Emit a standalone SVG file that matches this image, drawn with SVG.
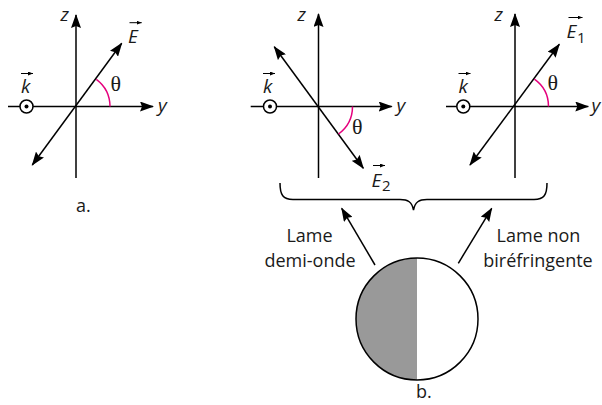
<svg xmlns="http://www.w3.org/2000/svg" width="602" height="405" viewBox="0 0 602 405">
<style>
.ax{stroke:#000;stroke-width:1.5;fill:none}
.arc{stroke:#e5007d;stroke-width:1.5;fill:none}
.vec{stroke:#000;stroke-width:1;fill:none}
.t{font-family:"Open Sans","Liberation Sans",sans-serif;font-size:18px;fill:#1a1a1a}
.i{font-style:italic;font-size:19px}
.sub{font-family:"Open Sans","Liberation Sans",sans-serif;font-size:15px;fill:#1a1a1a}
.th{font-family:"Liberation Serif","DejaVu Serif",serif;font-size:22px;fill:#1a1a1a}
</style>
<defs>
<marker id="ah" markerUnits="userSpaceOnUse" markerWidth="14" markerHeight="10" refX="13" refY="5" orient="auto-start-reverse" viewBox="0 0 14 10">
<path d="M0,0 L14,5 L0,10 L2,5 Z" fill="#000"/>
</marker>
<marker id="sh" markerUnits="userSpaceOnUse" markerWidth="5" markerHeight="4" refX="5" refY="2" orient="auto" viewBox="0 0 5 4">
<path d="M0,0 L5,2 L0,4 Z" fill="#000"/>
</marker>
<g id="kdot">
<circle cx="0" cy="0" r="6.5" fill="#fff" stroke="#000" stroke-width="1.5"/>
<circle cx="0" cy="0" r="2" fill="#000"/>
</g>
</defs>

<g id="panel-a">
<line class="ax" x1="8" y1="106.5" x2="153" y2="106.5" marker-end="url(#ah)"/>
<line class="ax" x1="76" y1="178" x2="76" y2="15" marker-end="url(#ah)"/>
<line class="ax" x1="32.3" y1="165" x2="121.7" y2="43.3" marker-start="url(#ah)" marker-end="url(#ah)"/>
<path class="arc" d="M110,106.5 A34,34 0 0 0 96.3,79.3"/>
<use href="#kdot" x="26.5" y="106.5"/>
<text class="th" x="110.5" y="91">θ</text>
<text class="t i" x="60.5" y="20.5">z</text>
<text class="t i" x="158" y="112">y</text>
<text class="t i" x="21" y="93">k</text>
<line class="vec" x1="21" y1="73.5" x2="33" y2="73.5" marker-end="url(#sh)"/>
<text class="t i" x="128" y="42.7">E</text>
<line class="vec" x1="129.5" y1="22.7" x2="141.7" y2="22.7" marker-end="url(#sh)"/>
<text class="t" x="76" y="212">a.</text>
</g>

<g id="panel-b-e2">
<line class="ax" x1="250.7" y1="106.5" x2="391.7" y2="106.5" marker-end="url(#ah)"/>
<line class="ax" x1="318.5" y1="178" x2="318.5" y2="14" marker-end="url(#ah)"/>
<line class="ax" x1="274.3" y1="46.7" x2="363.3" y2="168.3" marker-start="url(#ah)" marker-end="url(#ah)"/>
<path class="arc" d="M352.5,106.5 A34,34 0 0 1 338.5,134"/>
<use href="#kdot" x="270" y="106.5"/>
<text class="th" x="352" y="134">θ</text>
<text class="t i" x="297.5" y="20.5">z</text>
<text class="t i" x="396.5" y="112">y</text>
<text class="t i" x="263" y="93">k</text>
<line class="vec" x1="263" y1="73.5" x2="275" y2="73.5" marker-end="url(#sh)"/>
<text class="t i" x="371.5" y="186.7">E</text>
<text class="sub" x="382" y="190.5">2</text>
<line class="vec" x1="373" y1="165.5" x2="385" y2="165.5" marker-end="url(#sh)"/>
</g>

<g id="panel-b-e1">
<line class="ax" x1="446" y1="106.5" x2="588.3" y2="106.5" marker-end="url(#ah)"/>
<line class="ax" x1="515" y1="178" x2="515" y2="14" marker-end="url(#ah)"/>
<line class="ax" x1="470" y1="165" x2="559.3" y2="44.3" marker-start="url(#ah)" marker-end="url(#ah)"/>
<path class="arc" d="M548.5,106.5 A33.5,33.5 0 0 0 534.4,79.2"/>
<use href="#kdot" x="463.3" y="106.5"/>
<text class="th" x="547.5" y="90">θ</text>
<text class="t i" x="494.5" y="20.5">z</text>
<text class="t i" x="591.5" y="112">y</text>
<text class="t i" x="458.5" y="93">k</text>
<line class="vec" x1="458.5" y1="73.5" x2="470.5" y2="73.5" marker-end="url(#sh)"/>
<text class="t i" x="566.5" y="38.3">E</text>
<text class="sub" x="577" y="43">1</text>
<line class="vec" x1="568.5" y1="17.5" x2="582.5" y2="17.5" marker-end="url(#sh)"/>
</g>

<g id="brace">
<path class="ax" d="M280,183 C280,195 283,199.5 293,199.5 L400,199.5 C408,199.5 412,202 413.5,210 C415,202 419,199.5 427,199.5 L534,199.5 C544,199.5 547,195 547,183"/>
</g>

<g id="plate">
<path d="M417,258 A61,61 0 0 0 417,380 Z" fill="#999"/>
<circle cx="417" cy="319" r="61" fill="none" stroke="#000" stroke-width="1.5"/>
<text class="t" x="416" y="398">b.</text>
</g>

<g id="connectors">
<line class="ax" x1="375" y1="265" x2="341.7" y2="208.3" marker-end="url(#ah)"/>
<line class="ax" x1="458.3" y1="263.3" x2="491.7" y2="208.3" marker-end="url(#ah)"/>
</g>

<g id="labels">
<text class="t" x="309.5" y="241.5" text-anchor="middle">Lame</text>
<text class="t" x="310" y="266.5" text-anchor="middle">demi-onde</text>
<text class="t" x="538.5" y="241.5" text-anchor="middle">Lame non</text>
<text class="t" x="538" y="266.5" text-anchor="middle">biréfringente</text>
</g>
</svg>
